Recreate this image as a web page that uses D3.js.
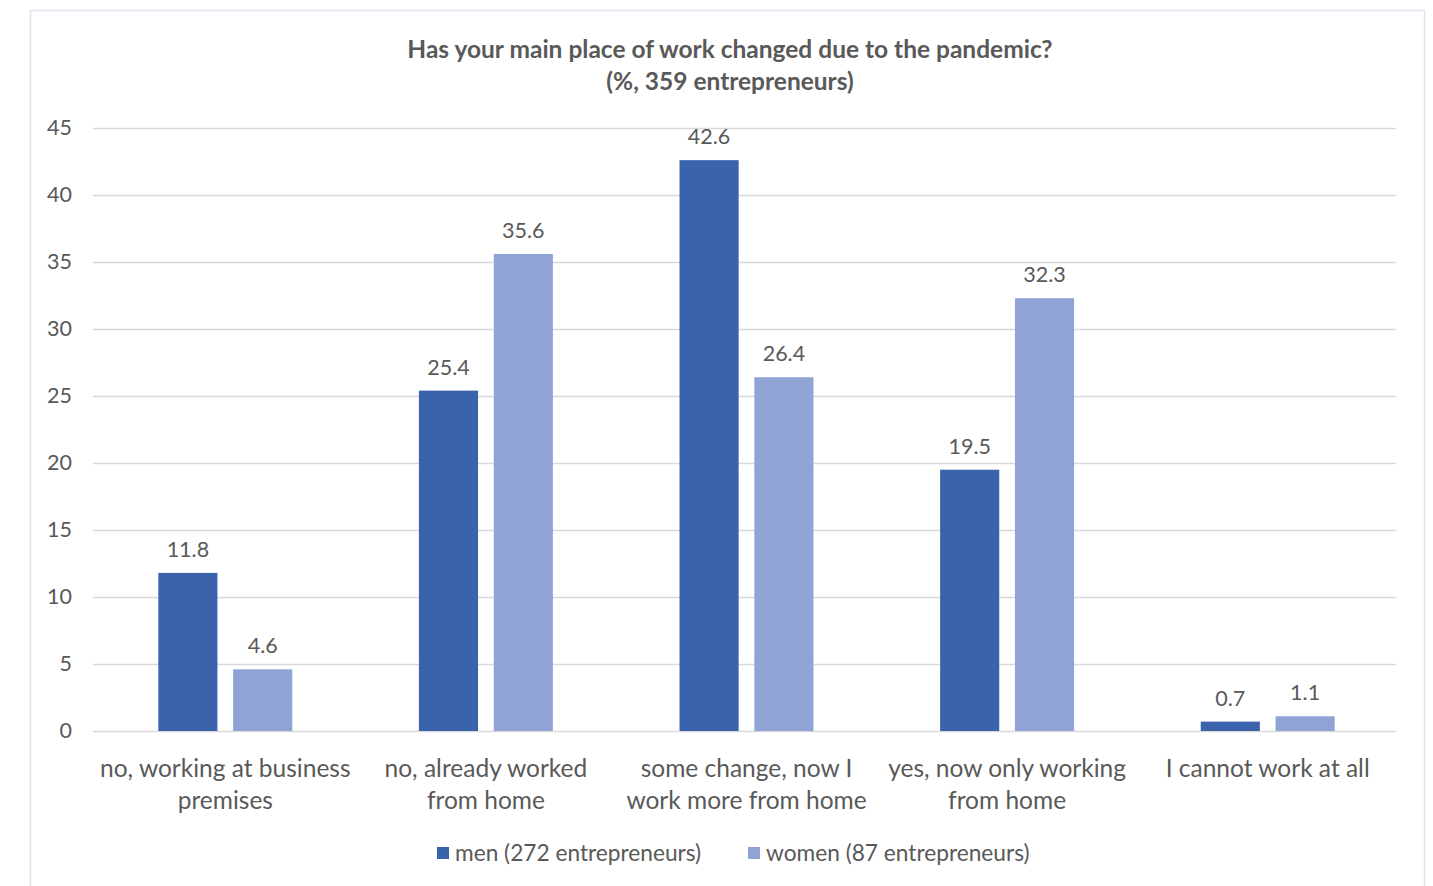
<!DOCTYPE html>
<html><head><meta charset="utf-8">
<script src="https://cdn.jsdelivr.net/npm/d3@7"></script>
<style>
html,body{margin:0;padding:0;background:#fff;}
svg{display:block;}
text{font-family:Lato,"Open Sans",sans-serif;fill:#595959;}
</style></head>
<body>
<script>
const categories = [
  ["no, working at business", "premises"],
  ["no, already worked", "from home"],
  ["some change, now I", "work more from home"],
  ["yes, now only working", "from home"],
  ["I cannot work at all"]
];
const seriesNames = ["men (272 entrepreneurs)", "women (87 entrepreneurs)"];
const men = [11.8, 25.4, 42.6, 19.5, 0.7];
const women = [4.6, 35.6, 26.4, 32.3, 1.1];
const yTicks = [0, 5, 10, 15, 20, 25, 30, 35, 40, 45];
const titleLines = ["Has your main place of work changed due to the pandemic?", "(%, 359 entrepreneurs)"];
const colors = ["#3A63AC", "#8FA4D4"];

(function(){
const W = 1433, H = 886;
const svg = d3.select("body").append("svg").attr("width", W).attr("height", H);

// frame
svg.append("rect").attr("x", 30.5).attr("y", 10.5).attr("width", 1394).attr("height", 900)
  .attr("fill", "#fff").attr("stroke", "#dde4ee").attr("stroke-width", 1.5);

const pL = 93, pR = 1396, pT = 128, pB = 731;
const idx = d3.range(categories.length);
const x0 = d3.scaleBand().domain(idx).range([pL + 2, pR + 2]).paddingInner(0.486).paddingOuter(0.243);
const x1 = d3.scaleBand().domain([0, 1]).range([0, x0.bandwidth()]).paddingInner(0.21).paddingOuter(0);
const y = d3.scaleLinear().domain([0, 45]).range([pB, pT]);

// gridlines
const yAxis = d3.axisLeft(y).tickValues(yTicks).tickSize(-(pR - pL)).tickPadding(21).tickFormat(d3.format("d"));
const ga = svg.append("g").attr("transform", `translate(${pL},0)`).call(yAxis);
ga.select(".domain").remove();
ga.selectAll(".tick line").attr("stroke", "#d9d9d9").attr("stroke-width", 1.5);
ga.selectAll(".tick text").attr("font-size", 21.5).style("fill", "#595959").attr("font-family", "Lato");

const series = [men, women];
series.forEach((vals, s) => {
  const g = svg.append("g");
  g.selectAll("rect").data(vals).join("rect")
    .attr("x", (d, i) => x0(i) + x1(s))
    .attr("width", x1.bandwidth())
    .attr("y", d => y(d))
    .attr("height", d => y(0) - y(d))
    .attr("fill", colors[s]);
  g.selectAll("text").data(vals).join("text")
    .attr("x", (d, i) => x0(i) + x1(s) + x1.bandwidth() / 2)
    .attr("y", d => y(d) - 16)
    .attr("text-anchor", "middle")
    .attr("font-size", 21.5)
    .text(d => d3.format(".1f")(d));
});

// x axis labels
const xl = svg.append("g");
categories.forEach((lines, i) => {
  const t = xl.append("text")
    .attr("x", x0(i) + x0.bandwidth() / 2)
    .attr("y", 777)
    .attr("text-anchor", "middle")
    .attr("font-size", 24.5);
  lines.forEach((ln, k) => {
    t.append("tspan").attr("x", x0(i) + x0.bandwidth() / 2).attr("dy", k === 0 ? 0 : 32).text(ln);
  });
});

// title
titleLines.forEach((ln, k) => {
  svg.append("text").attr("x", 730).attr("y", 58 + k * 32)
    .attr("text-anchor", "middle").attr("font-size", 24.5).attr("font-weight", "bold")
    .text(ln);
});

// legend
const legX = [437, 748];
seriesNames.forEach((nm, s) => {
  svg.append("rect").attr("x", legX[s]).attr("y", 847).attr("width", 12).attr("height", 12).attr("fill", colors[s]);
  svg.append("text").attr("x", legX[s] + 18).attr("y", 861).attr("font-size", 22.7).text(nm);
});
})();
</script>
</body></html>
